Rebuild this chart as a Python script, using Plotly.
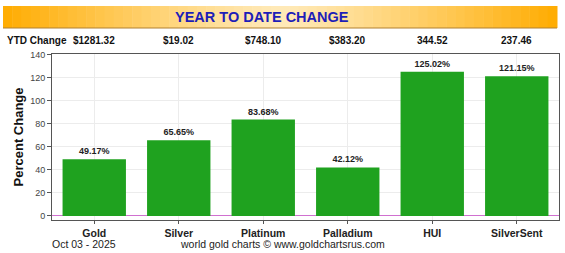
import plotly.graph_objects as go

categories = ["Gold", "Silver", "Platinum", "Palladium", "HUI", "SilverSent"]
pct_change = [49.17, 65.65, 83.68, 42.12, 125.02, 121.15]
ytd_change = ["$1281.32", "$19.02", "$748.10", "$383.20", "344.52", "237.46"]
y_ticks = [0, 20, 40, 60, 80, 100, 120, 140]

W, H = 565, 253
ML, MR, MT, MB = 52, 6, 54, 33
PW, PH = W - ML - MR, H - MT - MB

def px_x(px):
    return (px - ML) / PW

def px_y(py):
    return (H - MB - py) / PH

fig = go.Figure()
fig.add_trace(go.Bar(
    x=categories, y=pct_change,
    marker=dict(color="#1fa21f", line=dict(width=0)),
    width=0.75,
    text=[f"<b>{v:.2f}%</b>" for v in pct_change],
    textposition="outside",
    textfont=dict(family="Liberation Sans", size=9, color="#222222"),
    cliponaxis=False,
))

shapes = []
x0p, x1p = 3, 557
n = 60
for i in range(n):
    t = (i + 0.5) / n
    d = abs(t - 0.5) * 2
    c0 = (255, 234, 185)
    c1 = (255, 172, 0)
    f = d ** 1.2
    col = tuple(int(c0[k] + (c1[k] - c0[k]) * f) for k in range(3))
    xa = x0p + (x1p - x0p) * i / n
    xb = x0p + (x1p - x0p) * (i + 1) / n + 0.5
    shapes.append(dict(type="rect", xref="paper", yref="paper",
                       x0=px_x(xa), x1=px_x(xb), y0=px_y(28), y1=px_y(6),
                       fillcolor="rgb(%d,%d,%d)" % col, line=dict(width=0), layer="below"))
shapes.append(dict(type="line", xref="paper", yref="paper",
                   x0=px_x(x0p), x1=px_x(x1p), y0=px_y(28), y1=px_y(28),
                   line=dict(color="#b08030", width=1)))

annotations = [
    dict(text="<b>YEAR TO DATE CHANGE</b>", xref="paper", yref="paper",
         x=px_x(262), y=px_y(17), showarrow=False, xanchor="center", yanchor="middle",
         font=dict(family="Liberation Sans", size=14.5, color="#1e1eb8")),
    dict(text="<b>YTD Change</b>", xref="paper", yref="paper",
         x=px_x(5), y=px_y(41), showarrow=False, xanchor="left", yanchor="middle",
         font=dict(family="Liberation Sans", size=10, color="#111111")),
    dict(text="Oct 03 - 2025", xref="paper", yref="paper",
         x=px_x(50), y=px_y(244), showarrow=False, xanchor="left", yanchor="middle",
         font=dict(family="Liberation Sans", size=10.5, color="#222222")),
    dict(text="world gold charts \u00a9 www.goldchartsrus.com", xref="paper", yref="paper",
         x=px_x(282), y=px_y(244), showarrow=False, xanchor="center", yanchor="middle",
         font=dict(family="Liberation Sans", size=10.5, color="#222222")),
]
for c, v in zip(categories, ytd_change):
    annotations.append(dict(text=f"<b>{v}</b>", xref="x", yref="paper",
                            x=c, y=px_y(41), showarrow=False, xanchor="center", yanchor="middle",
                            font=dict(family="Liberation Sans", size=10, color="#111111")))

fig.update_layout(
    width=W, height=H,
    margin=dict(l=ML, r=MR, t=MT, b=MB, pad=0),
    paper_bgcolor="white", plot_bgcolor="white",
    showlegend=False,
    shapes=shapes, annotations=annotations,
    xaxis=dict(
        showgrid=True, gridcolor="#ececec", gridwidth=1,
        showline=True, linecolor="#555555", linewidth=1, mirror=True,
        ticks="outside", ticklen=3, tickcolor="#555555",
        tickfont=dict(family="Liberation Sans", size=10.5, color="#222222", weight="bold"),
    ),
    yaxis=dict(
        range=[-3.5, 140.5], tickvals=y_ticks,
        showgrid=True, gridcolor="#ececec", gridwidth=1,
        zeroline=True, zerolinecolor="#d070d0", zerolinewidth=1,
        showline=True, linecolor="#555555", linewidth=1, mirror=True,
        ticks="outside", ticklen=4, tickcolor="#555555",
        tickfont=dict(family="Liberation Sans", size=9, color="#444444"),
        title=dict(text="<b>Percent Change</b>", standoff=3,
                   font=dict(family="Liberation Sans", size=13, color="#111111")),
    ),
)

fig.write_html("out.html")
